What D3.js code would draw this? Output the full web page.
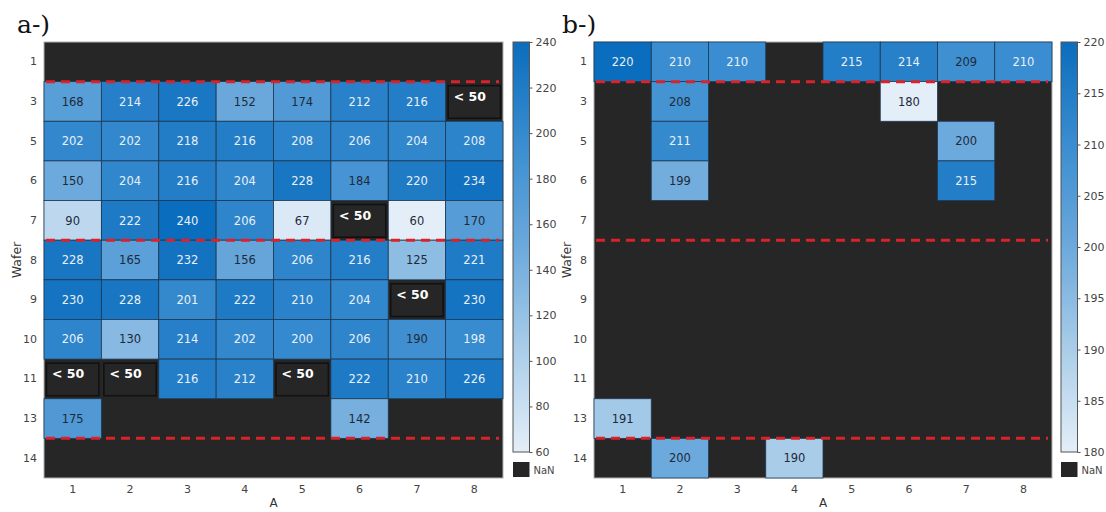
<!DOCTYPE html>
<html><head><meta charset="utf-8">
<script src="https://cdn.jsdelivr.net/npm/d3@7"></script>
<style>body{margin:0;background:#fff;} svg{display:block;}</style>
</head><body>
<svg id="c" width="1106" height="512"></svg>
<script>
const rows = ["1","3","5","6","7","8","9","10","11","13","14"];
const cols = ["1","2","3","4","5","6","7","8"];
const LOW = "<50";
// panel a values (null = NaN, LOW = "< 50" annotation)
const valuesA = [
  [null,null,null,null,null,null,null,null],
  [168,214,226,152,174,212,216,LOW],
  [202,202,218,216,208,206,204,208],
  [150,204,216,204,228,184,220,234],
  [90,222,240,206,67,LOW,60,170],
  [228,165,232,156,206,216,125,221],
  [230,228,201,222,210,204,LOW,230],
  [206,130,214,202,200,206,190,198],
  [LOW,LOW,216,212,LOW,222,210,226],
  [175,null,null,null,null,142,null,null],
  [null,null,null,null,null,null,null,null]
];
const valuesB = [
  [220,210,210,null,215,214,209,210],
  [null,208,null,null,null,180,null,null],
  [null,211,null,null,null,null,200,null],
  [null,199,null,null,null,null,215,null],
  [null,null,null,null,null,null,null,null],
  [null,null,null,null,null,null,null,null],
  [null,null,null,null,null,null,null,null],
  [null,null,null,null,null,null,null,null],
  [null,null,null,null,null,null,null,null],
  [191,null,null,null,null,null,null,null],
  [null,200,null,190,null,null,null,null]
];
const ticksA = [60,80,100,120,140,160,180,200,220,240];
const ticksB = [180,185,190,195,200,205,210,215,220];
const domainA = [60,240];
const domainB = [180,220];
const dashedAfterRows = ["1","7","13"];
const xLabel = "A", yLabel = "Wafer";
const titles = ["a-)","b-)"];

const svg = d3.select("#c");
const stops = ["#e4eef8","#a9cde9","#6ca9dc","#3a8dd0","#0b6dbd"];
const interp = d3.piecewise(d3.interpolateRgb, stops);
const NAN = "#262626";

function panel(cfg){
  const g = svg.append("g");
  const x = d3.scaleBand().domain(cols).range([cfg.x0, cfg.x1]);
  const y = d3.scaleBand().domain(rows).range([42, 478]);
  const col = d3.scaleSequential(interp).domain(cfg.domain);
  const norm = d3.scaleLinear().domain(cfg.domain).range([0,1]);
  g.append("rect").attr("x",cfg.x0).attr("y",42).attr("width",cfg.x1-cfg.x0).attr("height",436)
    .attr("fill",NAN).attr("stroke","#b0b0b0").attr("stroke-width",1);
  const cells = [];
  cfg.values.forEach((r,i)=>r.forEach((v,j)=>cells.push({r:rows[i],c:cols[j],v})));
  const num = cells.filter(d=>typeof d.v==="number");
  g.selectAll("rect.cell").data(num).join("rect").attr("class","cell")
    .attr("x",d=>x(d.c)).attr("y",d=>y(d.r)).attr("width",x.bandwidth()).attr("height",y.bandwidth())
    .attr("fill",d=>col(d.v)).attr("stroke","#1f3a55").attr("stroke-width",0.8);
  g.selectAll("text.ann").data(num).join("text").attr("class","ann")
    .attr("x",d=>x(d.c)+x.bandwidth()/2).attr("y",d=>y(d.r)+y.bandwidth()/2)
    .attr("text-anchor","middle").attr("dy","0.36em")
    .attr("font-family","DejaVu Sans").attr("font-size",11.5)
    .attr("fill",d=>norm(d.v)<0.745?"#1e2a3a":"#e8f0f8").text(d=>d.v);
  const low = cells.filter(d=>d.v===LOW);
  g.selectAll("rect.low").data(low).join("rect").attr("class","low")
    .attr("x",d=>x(d.c)+2.5).attr("y",d=>y(d.r)+4).attr("width",x.bandwidth()-5).attr("height",y.bandwidth()-7)
    .attr("fill",NAN).attr("stroke","#111").attr("stroke-width",1.5);
  g.selectAll("text.low").data(low).join("text").attr("class","low")
    .attr("x",d=>x(d.c)+8).attr("y",d=>y(d.r)+y.bandwidth()/2-5)
    .attr("dy","0.36em").attr("font-family","DejaVu Sans").attr("font-weight","bold").attr("font-size",12.5)
    .attr("fill","#fff").text("< 50");
  // dashed separators
  g.selectAll("line.sep").data(dashedAfterRows).join("line").attr("class","sep")
    .attr("x1",cfg.x0+2).attr("x2",cfg.x1-4)
    .attr("y1",d=>y(d)+y.bandwidth()).attr("y2",d=>y(d)+y.bandwidth())
    .attr("stroke","#d8232a").attr("stroke-width",3).attr("stroke-dasharray","9,6");
  // axes
  const ax = g.append("g").attr("transform","translate(0,478)").call(d3.axisBottom(x).tickSize(0).tickPadding(7));
  ax.select(".domain").remove();
  ax.selectAll("text").attr("font-family","DejaVu Sans").attr("font-size",11).attr("fill","#444");
  const ay = g.append("g").attr("transform",`translate(${cfg.x0},0)`).call(d3.axisLeft(y).tickSize(0).tickPadding(7));
  ay.select(".domain").remove();
  ay.selectAll("text").attr("font-family","DejaVu Sans").attr("font-size",11).attr("fill","#444");
  g.append("text").attr("x",(cfg.x0+cfg.x1)/2).attr("y",503).attr("text-anchor","middle").attr("dy","0.36em")
    .attr("font-family","DejaVu Sans").attr("font-size",12).attr("fill","#333").text(xLabel);
  g.append("text").attr("transform",`translate(${cfg.x0-23},260) rotate(-90)`).attr("text-anchor","middle")
    .attr("font-family","DejaVu Sans").attr("font-size",12.5).attr("fill","#333").text(yLabel);
  g.append("text").attr("x",cfg.tx).attr("y",33).attr("font-family","DejaVu Serif").attr("font-size",25)
    .attr("fill","#111").text(cfg.title);
  // colorbar
  const cb = cfg.cbx, cw = 16.5;
  const cy = d3.scaleLinear().domain(cfg.domain).range([452,42]);
  const gid = "grad"+cfg.title.charAt(0);
  const grad = svg.append("defs").append("linearGradient").attr("id",gid).attr("x1",0).attr("y1",1).attr("x2",0).attr("y2",0);
  d3.range(0,1.0001,0.05).forEach(t=>grad.append("stop").attr("offset",t).attr("stop-color",interp(t)));
  g.append("rect").attr("x",cb).attr("y",42).attr("width",cw).attr("height",410)
    .attr("fill",`url(#${gid})`).attr("stroke","#555").attr("stroke-width",1);
  const ac = g.append("g").attr("transform",`translate(${cb+cw},0)`)
    .call(d3.axisRight(cy).tickValues(cfg.ticks).tickSize(3).tickPadding(3));
  ac.select(".domain").remove();
  ac.selectAll("line").attr("stroke","#555");
  ac.selectAll("text").attr("font-family","DejaVu Sans").attr("font-size",11).attr("fill","#444");
  g.append("rect").attr("x",cb).attr("y",462).attr("width",cw).attr("height",15).attr("fill",NAN);
  g.append("text").attr("x",cb+cw+4).attr("y",470).attr("dy","0.36em")
    .attr("font-family","DejaVu Sans").attr("font-size",10).attr("fill","#444").text("NaN");
}
panel({x0:44,x1:503,values:valuesA,domain:domainA,ticks:ticksA,cbx:513,title:titles[0],tx:17});
panel({x0:594,x1:1052,values:valuesB,domain:domainB,ticks:ticksB,cbx:1061,title:titles[1],tx:562});
</script>
</body></html>
